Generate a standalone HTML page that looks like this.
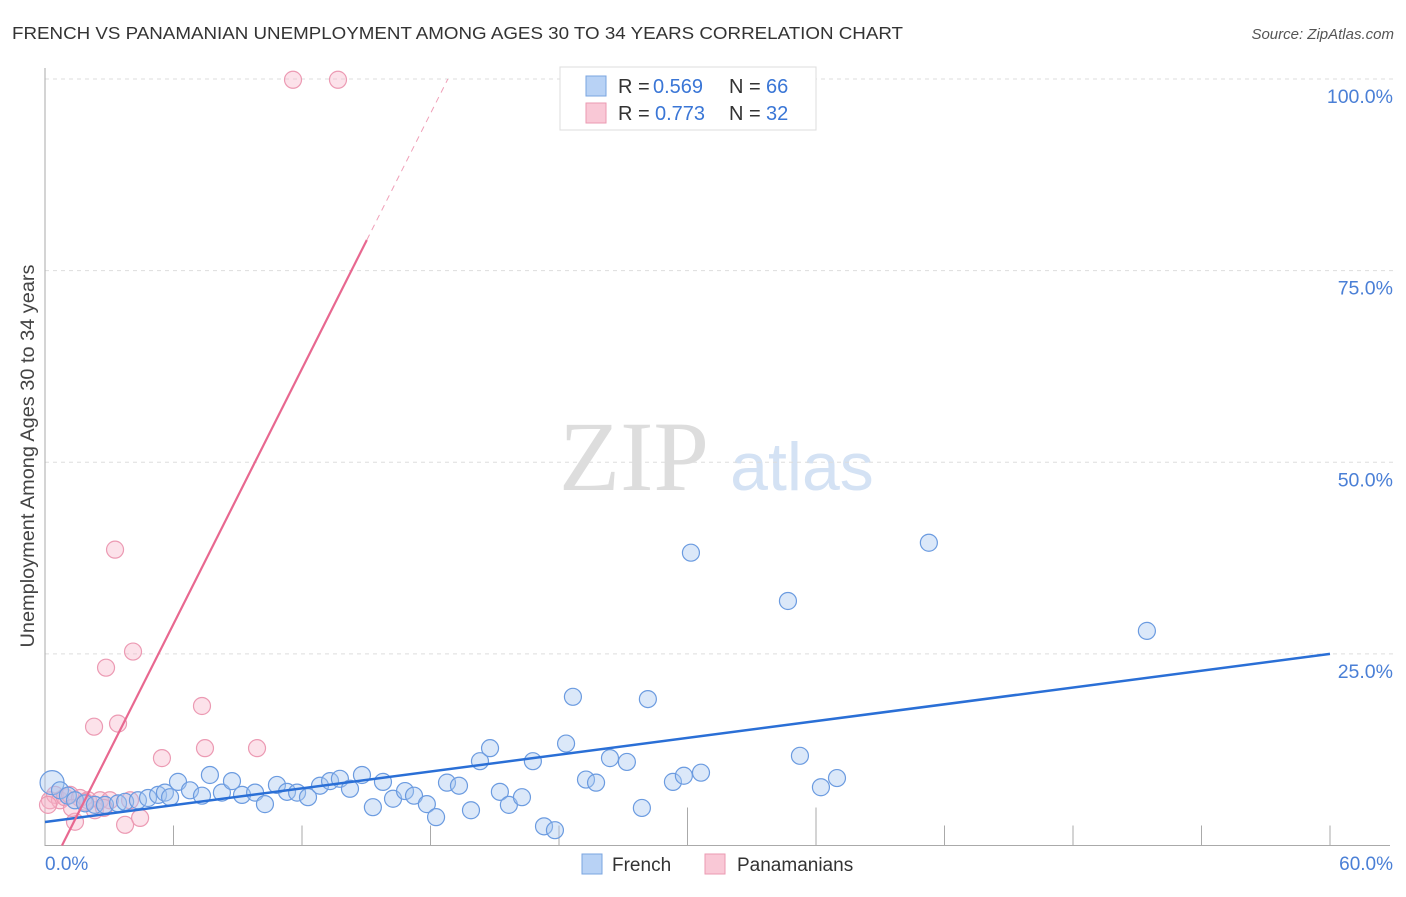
<!DOCTYPE html>
<html><head><meta charset="utf-8"><style>
body{margin:0;background:#fff;font-family:"Liberation Sans",sans-serif;}
</style></head><body>
<svg id="chart" width="1406" height="892" xmlns="http://www.w3.org/2000/svg" font-family="Liberation Sans, sans-serif">
<text x="12" y="39" font-size="17.5" fill="#333" textLength="891" lengthAdjust="spacingAndGlyphs">FRENCH VS PANAMANIAN UNEMPLOYMENT AMONG AGES 30 TO 34 YEARS CORRELATION CHART</text>
<text x="1394" y="39" font-size="15" fill="#555" font-style="italic" text-anchor="end">Source: ZipAtlas.com</text>
<text transform="translate(34,456) rotate(-90)" font-size="19" fill="#444" text-anchor="middle" textLength="383" lengthAdjust="spacingAndGlyphs">Unemployment Among Ages 30 to 34 years</text>
<g>
<text x="634" y="490" font-size="100" fill="#ddd" text-anchor="middle" style="font-family:'Liberation Serif',serif">ZIP</text>
<text x="802" y="490" font-size="68" fill="#d4e2f4" text-anchor="middle">atlas</text>
</g>
<g id="grid"></g><g id="axes"></g><g id="pts"></g><g id="lines"></g>
<g>
<rect x="560" y="67" width="256" height="63" fill="#fff" stroke="#ddd"/>
<rect x="586" y="76" width="20" height="20" fill="#b8d2f5" stroke="#7aa5e0"/>
<text x="618" y="93" font-size="20" fill="#333">R =</text><text x="653" y="93" font-size="20" fill="#3a76d6">0.569</text>
<text x="729" y="93" font-size="20" fill="#333">N =</text><text x="766" y="93" font-size="20" fill="#3a76d6">66</text>
<rect x="586" y="103" width="20" height="20" fill="#f9c8d6" stroke="#eb9ab2"/>
<text x="618" y="120" font-size="20" fill="#333">R =</text><text x="655" y="120" font-size="20" fill="#3a76d6">0.773</text>
<text x="729" y="120" font-size="20" fill="#333">N =</text><text x="766" y="120" font-size="20" fill="#3a76d6">32</text>
</g>
<g>
<rect x="582" y="854" width="20" height="20" fill="#b8d2f5" stroke="#7aa5e0"/>
<text x="612" y="871" font-size="19" fill="#333">French</text>
<rect x="705" y="854" width="20" height="20" fill="#f9c8d6" stroke="#eb9ab2"/>
<text x="737" y="871" font-size="19" fill="#333">Panamanians</text>
</g>
</svg>
<script>
const yTicks=[25,50,75,100];
const xTickLabels=["0.0%","60.0%"];
const frenchX=[0.33,0.70,1.07,1.40,1.87,2.33,2.80,3.41,3.74,4.34,4.81,5.28,5.60,5.84,6.21,6.77,7.33,7.70,8.26,8.73,9.20,9.81,10.27,10.83,11.30,11.77,12.28,12.84,13.31,13.77,14.24,14.80,15.31,15.78,16.25,16.81,17.23,17.83,18.26,18.77,19.33,19.89,20.31,20.78,21.24,21.66,22.27,22.78,23.30,23.81,24.33,24.65,25.26,25.73,26.38,27.17,27.87,28.15,29.32,29.83,30.16,30.63,34.69,35.25,36.23,36.98,41.27,51.45];
const frenchY=[8.2,7.2,6.5,5.9,5.5,5.3,5.3,5.5,5.7,5.9,6.2,6.6,6.9,6.3,8.3,7.2,6.5,9.2,6.9,8.4,6.6,6.9,5.4,7.9,7.0,6.9,6.3,7.8,8.4,8.7,7.4,9.2,5.0,8.3,6.1,7.1,6.5,5.4,3.7,8.2,7.8,4.6,11.0,12.7,7.0,5.3,6.3,11.0,2.5,2.0,13.3,19.4,8.6,8.2,11.4,10.9,4.9,19.1,8.3,9.1,38.2,9.5,31.9,11.7,7.6,8.8,39.5,28.0];
const panX=[0.23,0.47,0.70,0.93,1.17,1.40,1.63,2.01,2.33,2.57,2.85,3.03,3.27,3.41,3.74,3.97,4.11,4.44,2.29,5.46,7.33,7.47,9.90,11.58,13.68,1.87,1.26,2.75,0.14];
const panY=[5.9,6.6,5.9,6.3,6.6,3.1,6.2,5.9,4.6,5.9,23.2,5.9,38.6,15.9,2.7,5.9,25.3,3.6,15.5,11.4,18.2,12.7,12.7,99.9,99.9,5.7,4.9,4.9,5.3];
const frenchFit=[3.07,0.3655];
const panFit=[-4.4,5.55];
const X0=45,X1=1330,Y0=845.5,Y1=79;
const sx=v=>X0+v/60*(X1-X0), sy=v=>Y0-v/100*(Y0-Y1);
const NS="http://www.w3.org/2000/svg";
function mk(parent,tag,attrs){const e=document.createElementNS(NS,tag);for(const k in attrs)e.setAttribute(k,attrs[k]);document.getElementById(parent).appendChild(e);return e;}
yTicks.forEach(t=>{
 const l=mk('grid','line',{x1:X0,x2:1395,y1:sy(t),y2:sy(t),stroke:'#ddd','stroke-dasharray':'4,4'});
 
 
 const tx=mk('grid','text',{x:1393,y:sy(t)+24,'font-size':19.5,fill:'#4a7fd6','text-anchor':'end'});
 tx.textContent=t.toFixed(1)+'%';
 
 
});
const ax=mk('axes','path',{d:`M${X0} 68V${Y0}H${X1+60}`,stroke:'#aaa',fill:'none'});


for(let i=1;i<=10;i++){const x=sx(i*6);const t=mk('axes','line',{x1:x,x2:x,y1:Y0,y2:(i==5||i==6)?Y0-38:Y0-20,stroke:'#aaa'});
 
 }
xTickLabels.forEach((s,i)=>{const t=mk('axes','text',{x:i?1393:45,y:870,'font-size':19,fill:'#4a7fd6','text-anchor':i?'end':'start'});t.textContent=s;
 
 });
panX.forEach((v,i)=>{const c=mk('pts','circle',{cx:sx(v),cy:sy(panY[i]),r:8.5,fill:'rgba(248,182,202,0.4)',stroke:'#ec9ab3','stroke-width':1.2});
 
 });
frenchX.forEach((v,i)=>{const c=mk('pts','circle',{cx:sx(v),cy:sy(frenchY[i]),r:i==0?12:8.5,fill:'rgba(165,198,240,0.4)',stroke:'#6b9be0','stroke-width':1.2});
 
 });
const fl=mk('lines','line',{x1:sx(0),y1:sy(frenchFit[0]),x2:sx(60),y2:sy(frenchFit[0]+frenchFit[1]*60),stroke:'#2a6fd6','stroke-width':2.5});


const xa=-panFit[0]/panFit[1], xb=(79-panFit[0])/panFit[1], xc=(100-panFit[0])/panFit[1];
const pl=mk('lines','line',{x1:sx(xa),y1:sy(0),x2:sx(xb),y2:sy(79),stroke:'#e86890','stroke-width':2.2});


const pd=mk('lines','line',{x1:sx(xb),y1:sy(79),x2:sx(xc),y2:sy(100),stroke:'#f0a0b8','stroke-width':1,'stroke-dasharray':'6,5'});


</script>
</body></html>
